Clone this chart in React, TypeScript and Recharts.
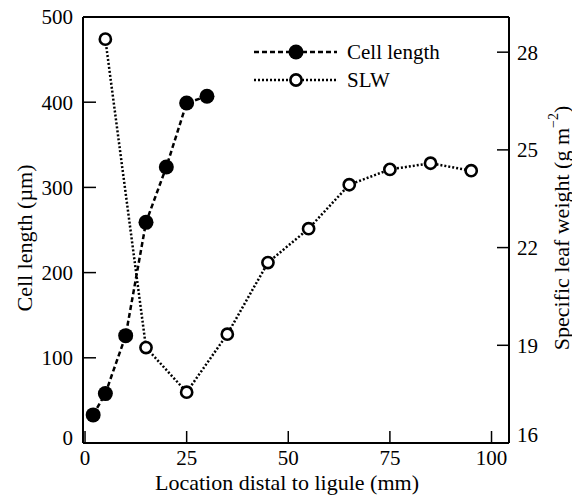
import { ComposedChart, Line, XAxis, YAxis } from 'recharts';

const cellX = [2, 5, 10, 15, 20, 25, 30];
const cellLength = [33, 58, 126, 259, 324, 399, 407];

const slwX = [5, 15, 25, 35, 45, 55, 65, 75, 85, 95];
const slw = [28.4, 18.93, 17.56, 19.34, 21.54, 22.58, 23.93, 24.4, 24.59, 24.36];

const xTicks = [0, 25, 50, 75, 100];
const leftTicks = [0, 100, 200, 300, 400, 500];
const rightTicks = [16, 19, 22, 25, 28];

const FONT = 'Liberation Serif, serif';

const cellData = cellX.map((x, i) => ({ x, cell: cellLength[i] }));
const slwData = slwX.map((x, i) => ({ x, slw: slw[i] }));

const FilledDot = (props: any) => {
    const { cx, cy } = props;
    return <circle cx={cx} cy={cy} r={7.5} fill="#000" stroke="none" />;
};

const OpenDot = (props: any) => {
    const { cx, cy } = props;
    return <circle cx={cx} cy={cy} r={5.6} fill="#fff" stroke="#000" strokeWidth={2.6} />;
};

// bottom tick labels sit a little higher than their tick in the original
const makeTick = (bottomValue: number, shift: number) => (props: any) => {
    const { x, y, payload, textAnchor } = props;
    const dy = payload.value === bottomValue ? shift : 0;
    return (
        <text x={x} y={y + dy} textAnchor={textAnchor} dy="0.355em" style={{ fontFamily: FONT, fontSize: 21 }} fill="#000">
            {payload.value}
        </text>
    );
};

const xTick = (props: any) => {
    const { x, y, payload } = props;
    return (
        <text x={x} y={y} textAnchor="middle" dy="0.71em" style={{ fontFamily: FONT, fontSize: 21 }} fill="#000">
            {payload.value}
        </text>
    );
};

export default function App() {
    return (
        <div style={{ position: 'absolute', left: 0, top: 0, width: 572, height: 495, background: '#fff', fontFamily: FONT }}>
            <ComposedChart
                width={572}
                height={495}
                margin={{ top: 17, right: 0, bottom: 0, left: 0 }}
                style={{ position: 'absolute', left: 0, top: 0 }}
            >
                <XAxis
                    type="number"
                    dataKey="x"
                    domain={[-0.5, 104.3]}
                    ticks={xTicks}
                    allowDataOverflow
                    height={52}
                    tickSize={-12}
                    tickMargin={19}
                    axisLine={{ stroke: '#000', strokeWidth: 2 }}
                    tickLine={{ stroke: '#000', strokeWidth: 1.5 }}
                    tick={xTick}
                />
                <YAxis
                    yAxisId="left"
                    type="number"
                    domain={[0, 500]}
                    ticks={leftTicks}
                    width={83}
                    tickSize={-13}
                    tickMargin={23}
                    axisLine={{ stroke: '#000', strokeWidth: 2 }}
                    tickLine={{ stroke: '#000', strokeWidth: 1.5 }}
                    tick={makeTick(0, -5)}
                />
                <YAxis
                    yAxisId="right"
                    orientation="right"
                    type="number"
                    domain={[16, 29.08]}
                    ticks={rightTicks}
                    allowDataOverflow
                    width={63}
                    tickSize={-12}
                    tickMargin={20}
                    axisLine={{ stroke: '#000', strokeWidth: 2 }}
                    tickLine={{ stroke: '#000', strokeWidth: 1.5 }}
                    tick={makeTick(16, -8)}
                />
                <Line
                    yAxisId="right"
                    data={slwData}
                    dataKey="slw"
                    name="SLW"
                    type="linear"
                    stroke="#000"
                    strokeWidth={2.5}
                    strokeDasharray="2 2"
                    dot={<OpenDot />}
                    activeDot={false}
                    isAnimationActive={false}
                />
                <Line
                    yAxisId="left"
                    data={cellData}
                    dataKey="cell"
                    name="Cell length"
                    type="linear"
                    stroke="#000"
                    strokeWidth={2.5}
                    strokeDasharray="5 3"
                    dot={<FilledDot />}
                    activeDot={false}
                    isAnimationActive={false}
                />
            </ComposedChart>
            <svg width={572} height={495} style={{ position: 'absolute', left: 0, top: 0, pointerEvents: 'none', fontFamily: FONT }}>
                <line x1={83} y1={17} x2={509} y2={17} stroke="#000" strokeWidth={2} />
                <g>
                    <line x1={254} y1={52} x2={337} y2={52} stroke="#000" strokeWidth={2.5} strokeDasharray="5 3" />
                    <circle cx={296} cy={52} r={7.5} fill="#000" />
                    <text x={347} y={52} dy="0.355em" fontSize={21} fill="#000">Cell length</text>
                    <line x1={254} y1={80} x2={337} y2={80} stroke="#000" strokeWidth={2.5} strokeDasharray="2 2" />
                    <circle cx={296} cy={80} r={5.6} fill="#fff" stroke="#000" strokeWidth={2.6} />
                    <text x={347} y={80} dy="0.355em" fontSize={21} fill="#000">SLW</text>
                </g>
                <text x={287} y={482} textAnchor="middle" dominantBaseline="central" fontSize={22} fill="#000">
                    Location distal to ligule (mm)
                </text>
                <text x={24} y={238} textAnchor="middle" dominantBaseline="central" transform="rotate(-90, 24, 238)" fontSize={22} fill="#000">
                    Cell length (µm)
                </text>
                <text x={561} y={228} textAnchor="middle" dominantBaseline="central" transform="rotate(-90, 561, 228)" fontSize={22} fill="#000">
                    Specific leaf weight (g m<tspan dy={-8} fontSize={14}>−2</tspan><tspan dy={8}>)</tspan>
                </text>
            </svg>
        </div>
    );
}
